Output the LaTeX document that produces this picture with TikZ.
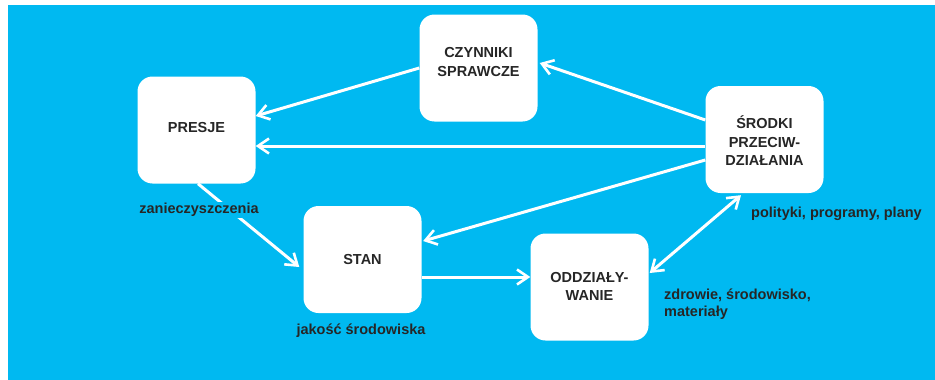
\documentclass[tikz,border=0pt]{standalone}
\usepackage{fontspec}
\setmainfont{Liberation Sans}
\usetikzlibrary{arrows.meta}
\definecolor{bgblue}{RGB}{0,185,241}
\definecolor{txt}{RGB}{38,38,38}
\tikzset{
  box/.style={draw=none, fill=white, rounded corners=15pt, minimum width=118pt, minimum height=107pt, inner sep=0pt},
  boxtext/.style={text=txt, font=\fontsize{14.5pt}{18.5pt}\selectfont\bfseries, align=center, inner sep=0pt},
  lab/.style={text=txt, font=\fontsize{14.5pt}{17pt}\selectfont\bfseries, align=left, inner sep=1pt},
  tip/.style={Straight Barb[length=11pt,width=15pt,line width=2.6pt]},
  arr/.style={draw=white, line width=3pt, -{Straight Barb[length=11pt,width=15pt,line width=2.6pt]}},
  darr/.style={draw=white, line width=3pt, {Straight Barb[length=11pt,width=15pt,line width=2.6pt]}-{Straight Barb[length=11pt,width=15pt,line width=2.6pt]}}
}
\begin{document}
\begin{tikzpicture}[x=1pt,y=-1pt]
\useasboundingbox (0,0) rectangle (935,380);
\fill[white] (0,0) rectangle (935,380);
\fill[bgblue] (8,5) rectangle (935,380);

\node[box] (presje) at (196.5,130) {};
\node[box] (czy) at (478.5,68) {};
\node[box] (srodki) at (764.5,139.5) {};
\node[box] (stan) at (362.5,259.5) {};
\node[box] (odd) at (589.5,287) {};

\node[boxtext] (tpresje) at (196.5,128) {PRESJE};
\node[boxtext] (tczy) at (478.5,62) {CZYNNIKI\\SPRAWCZE};
\node[boxtext] (tsrodki) at (764.5,141) {ŚRODKI\\PRZECIW-\\DZIAŁANIA};
\node[boxtext] (tstan) at (362.5,260) {STAN};
\node[boxtext] (todd) at (589.5,286.5) {ODDZIAŁY-\\WANIE};

\draw[arr] (czy.west) -- ([yshift=14pt]presje.east);
\draw[arr] ([yshift=19.5pt]srodki.west) -- ([xshift=2pt,yshift=5pt]czy.east);
\draw[arr] ([yshift=-6.5pt]srodki.west) -- ([yshift=-16pt]presje.east);
\draw[arr] ([yshift=-20.5pt]srodki.west) -- ([xshift=1.5pt,yshift=18.5pt]stan.east);
\draw[arr] ([xshift=1.5pt]presje.south) -- ([xshift=-4pt,yshift=-7.5pt]stan.west);
\draw[arr] ([yshift=-17.5pt]stan.east) -- ([yshift=10pt]odd.west);
\draw[darr] ([xshift=1pt,yshift=14pt]odd.east) -- ([xshift=-23.5pt,yshift=-2pt]srodki.south);

\node[lab, fill=bgblue] (l1) at (199,210) {zanieczyszczenia};
\node[lab, anchor=west] (l2) at (750,214) {polityki, programy, plany};
\node[lab, anchor=west] (l3) at (663,304.5) {zdrowie, środowisko,\\materiały};
\node[lab] (l4) at (361,331) {jakość środowiska};
\end{tikzpicture}
\end{document}
